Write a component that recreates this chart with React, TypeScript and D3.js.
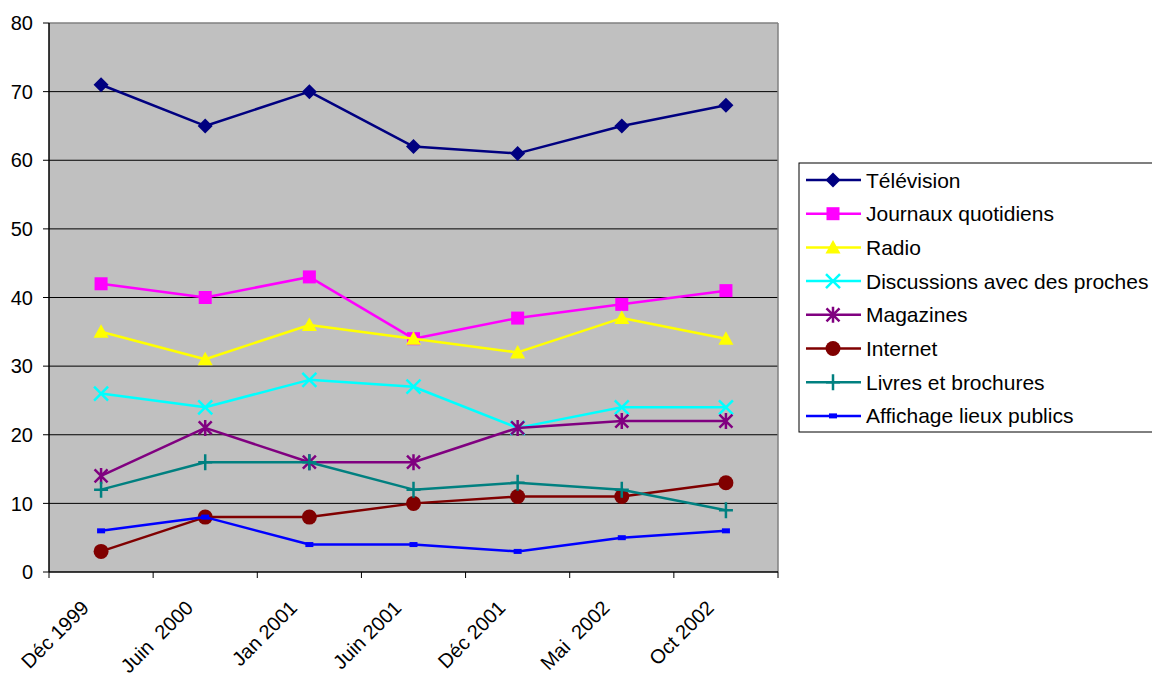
import React from "react";
import * as d3 from "d3";

const categories = ["Déc 1999", "Juin  2000", "Jan 2001", "Juin 2001", "Déc 2001", "Mai  2002", "Oct 2002"];
const seriesNames = [
  "Télévision",
  "Journaux quotidiens",
  "Radio",
  "Discussions avec des proches",
  "Magazines",
  "Internet",
  "Livres et brochures",
  "Affichage lieux publics",
];
const television = [71, 65, 70, 62, 61, 65, 68];
const journaux = [42, 40, 43, 34, 37, 39, 41];
const radio = [35, 31, 36, 34, 32, 37, 34];
const discussions = [26, 24, 28, 27, 21, 24, 24];
const magazines = [14, 21, 16, 16, 21, 22, 22];
const internet = [3, 8, 8, 10, 11, 11, 13];
const livres = [12, 16, 16, 12, 13, 12, 9];
const affichage = [6, 8, 4, 4, 3, 5, 6];
const yTicks = [0, 10, 20, 30, 40, 50, 60, 70, 80];

const seriesValues = [television, journaux, radio, discussions, magazines, internet, livres, affichage];
const colors = ["#000080", "#FF00FF", "#FFFF00", "#00FFFF", "#800080", "#800000", "#008080", "#0000FF"];
const markers = ["diamond", "square", "triangle", "x", "asterisk", "circle", "plus", "dash"];

const FONT = "Arial, 'Liberation Sans', sans-serif";

function Marker({ type, x, y, color }: { type: string; x: number; y: number; color: string }) {
  switch (type) {
    case "diamond":
      return <path d={`M${x},${y - 7.5}L${x + 7.5},${y}L${x},${y + 7.5}L${x - 7.5},${y}Z`} fill={color} />;
    case "square":
      return <rect x={x - 6.5} y={y - 6.5} width={13} height={13} fill={color} />;
    case "triangle":
      return <path d={`M${x},${y - 7.5}L${x + 7.5},${y + 6}L${x - 7.5},${y + 6}Z`} fill={color} />;
    case "x":
      return (
        <path d={`M${x - 7},${y - 7}L${x + 7},${y + 7}M${x - 7},${y + 7}L${x + 7},${y - 7}`} stroke={color} strokeWidth={2.5} />
      );
    case "asterisk":
      return (
        <path
          d={`M${x - 6.5},${y - 6.5}L${x + 6.5},${y + 6.5}M${x - 6.5},${y + 6.5}L${x + 6.5},${y - 6.5}M${x},${y - 8}L${x},${y + 8}`}
          stroke={color}
          strokeWidth={2.5}
        />
      );
    case "circle":
      return <circle cx={x} cy={y} r={7.5} fill={color} />;
    case "plus":
      return <path d={`M${x - 7},${y}L${x + 7},${y}M${x},${y - 8}L${x},${y + 8}`} stroke={color} strokeWidth={2.5} />;
    case "dash":
      return <rect x={x - 4} y={y - 2.5} width={8} height={5} fill={color} />;
  }
  return null;
}

export default function App() {
  const W = 1152;
  const H = 673;
  const left = 49;
  const right = 778;
  const top = 23;
  const bottom = 572;

  const x = d3.scaleBand<string>().domain(categories).range([left, right]).padding(0);
  const y = d3.scaleLinear().domain([0, 80]).range([bottom, top]);
  const cx = (c: string) => (x(c) as number) + x.bandwidth() / 2;

  const line = d3
    .line<number>()
    .x((_, i) => cx(categories[i]))
    .y((v) => y(v));

  const tickXs = categories.map((c) => x(c) as number).concat([right]);

  const legendX = 799;
  const legendTop = 163;
  const legendRow = 33.7;

  return (
    <svg width={W} height={H} style={{ position: "absolute", left: 0, top: 0 }} fontFamily={FONT}>
      <rect x={0} y={0} width={W} height={H} fill="#ffffff" />
      <rect x={left} y={top} width={right - left} height={bottom - top} fill="#C0C0C0" />
      {yTicks.slice(1, -1).map((t) => (
        <line key={t} x1={left} x2={right} y1={y(t)} y2={y(t)} stroke="#000" strokeWidth={1} />
      ))}
      <line x1={left} x2={right} y1={top} y2={top} stroke="#808080" strokeWidth={1.5} />
      <line x1={right} x2={right} y1={top} y2={bottom} stroke="#808080" strokeWidth={1.5} />
      <line x1={left} x2={left} y1={top} y2={bottom} stroke="#000" strokeWidth={1.5} />
      <line x1={left} x2={right} y1={bottom} y2={bottom} stroke="#000" strokeWidth={1.5} />
      {yTicks.map((t) => (
        <g key={t}>
          <line x1={left - 6} x2={left} y1={y(t)} y2={y(t)} stroke="#000" strokeWidth={1} />
          <text x={33} y={y(t)} dy="0.36em" textAnchor="end" fontSize={20} fill="#000">
            {t}
          </text>
        </g>
      ))}
      {tickXs.map((tx, i) => (
        <line key={i} x1={tx} x2={tx} y1={bottom} y2={bottom + 6} stroke="#000" strokeWidth={1} />
      ))}
      {categories.map((c) => (
        <text
          key={c}
          transform={`translate(${cx(c) - 16},${bottom + 32}) rotate(-45)`}
          textAnchor="end"
          dy="0.36em"
          fontSize={20}
          fill="#000"
          style={{ whiteSpace: "pre" }}
        >
          {c}
        </text>
      ))}
      {seriesValues.map((vals, si) => (
        <g key={si}>
          <path d={line(vals) || ""} fill="none" stroke={colors[si]} strokeWidth={2.5} strokeLinejoin="round" />
          {vals.map((v, i) => (
            <Marker key={i} type={markers[si]} x={cx(categories[i])} y={y(v)} color={colors[si]} />
          ))}
        </g>
      ))}
      <rect x={legendX} y={legendTop} width={W - legendX + 10} height={432 - legendTop} fill="#fff" stroke="#000" strokeWidth={1} />
      {seriesNames.map((name, si) => {
        const ly = 180 + si * legendRow;
        return (
          <g key={name}>
            <line x1={806} x2={861} y1={ly} y2={ly} stroke={colors[si]} strokeWidth={2.5} />
            <Marker type={markers[si]} x={833} y={ly} color={colors[si]} />
            <text x={866} y={ly} dy="0.36em" fontSize={21} fill="#000">
              {name}
            </text>
          </g>
        );
      })}
    </svg>
  );
}
